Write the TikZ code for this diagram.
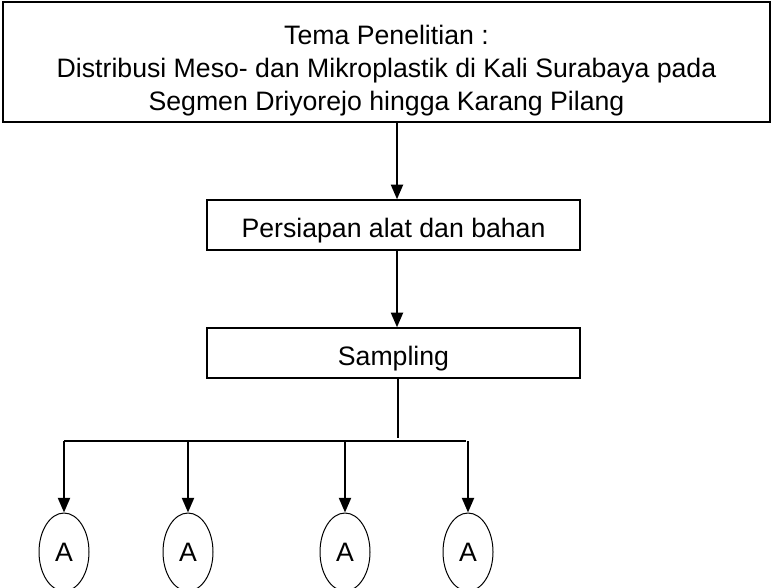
\documentclass[tikz,border=0pt]{standalone}
\usepackage{fontspec}
\setmainfont{Liberation Sans}
\usetikzlibrary{arrows.meta, shapes.geometric}

\tikzset{
    kotak/.style={draw, line width=1.1pt, minimum height=37.5pt, align=center, inner sep=0pt},
    langkah/.style={kotak, minimum width=279.75pt, text height=23.2pt, text depth=4.2pt},
    panah/.style={line width=1.6pt, -{Triangle[width=9pt, length=11pt]}},
    garis/.style={line width=1.6pt},
    lingkaran/.style={draw, ellipse, line width=0.75pt, minimum width=37.5pt, minimum height=58.5pt, inner sep=0pt},
    every node/.style={font=\fontsize{20}{24.75}\selectfont}
}

\begin{document}
\begin{tikzpicture}[x=0.75pt, y=-0.75pt]
    % Frame of the picture
    \useasboundingbox (0,0) rectangle (773,587);
    % Boxes
    \node[kotak, minimum width=575.25pt, minimum height=90pt] (tema) at (386.5,62)
        {\rule{0pt}{27pt}Tema Penelitian :\\Distribusi Meso- dan Mikroplastik di Kali Surabaya pada\\Segmen Driyorejo hingga Karang Pilang};
    \node[langkah] (persiapan) at (393.5,225) {Persiapan alat dan bahan};
    \node[langkah] (sampling) at (393.5,353) {Sampling};
    % Spine
    \coordinate (tulang) at (397,0);
    \draw[panah] (tema.south -| tulang) -- (persiapan.north -| tulang);
    \draw[panah] (persiapan.south -| tulang) -- (sampling.north -| tulang);
    % Branch line
    \coordinate (cabang) at (398,438);
    \draw[line width=0.9pt] (sampling.south -| cabang) -- (cabang);
    \coordinate (c1) at (64,441);
    \coordinate (c4) at (466,441);
    \draw[garis] (c1) -- (c4);
    % Circles
    \foreach \x [count=\i] in {64,188,345,468}
    {
        \coordinate (t\i) at (\x,441);
        \node[lingkaran] (a\i) at (\x,552) {A};
        \draw[panah] (t\i) -- (a\i.north);
    }
\end{tikzpicture}
\end{document}
